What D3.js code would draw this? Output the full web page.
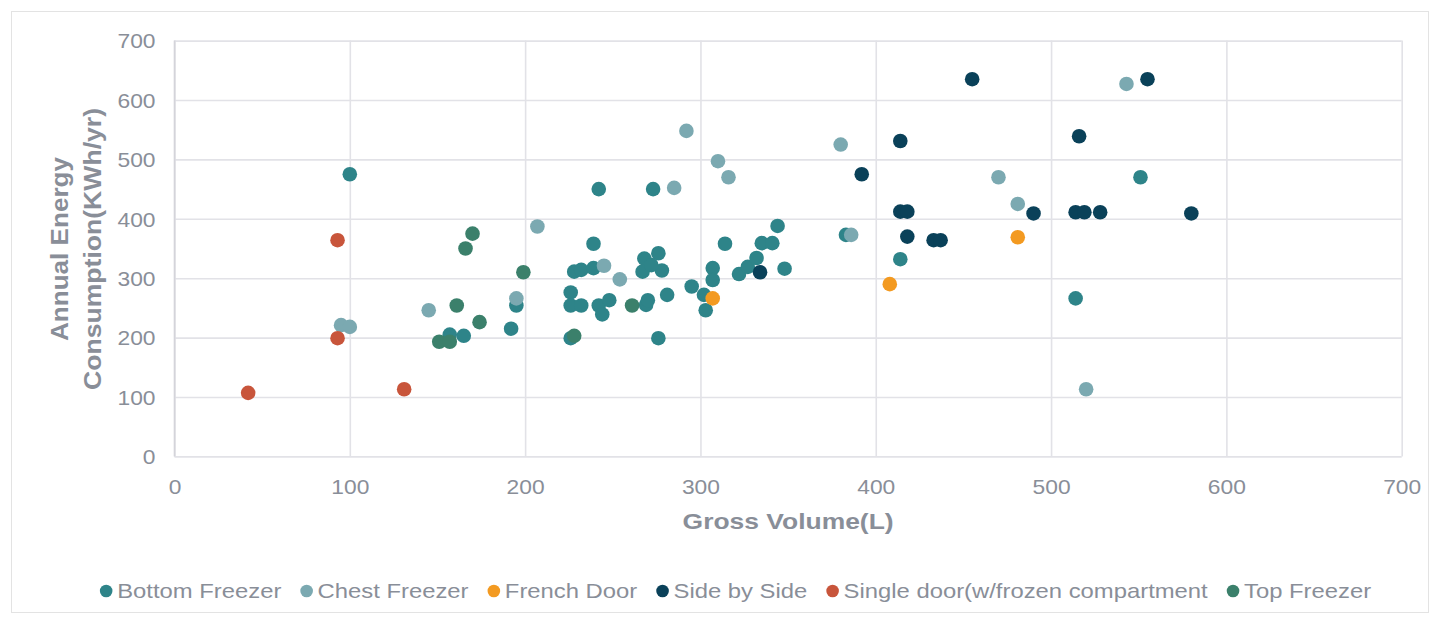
<!DOCTYPE html>
<html>
<head>
<meta charset="utf-8">
<script src="https://cdn.jsdelivr.net/npm/d3@7"></script>
<style>
  html, body { margin: 0; padding: 0; background: #ffffff; }
  svg { display: block; }
  text { font-family: "Liberation Sans", Arial, sans-serif; }
</style>
</head>
<body>
<svg id="chart" width="1440" height="624"></svg>
<script>
// Gross volume (L) vs annual energy consumption (kWh/yr), by refrigerator type
const bottomFreezer = [
  [100,475],[242,450],[273,450],[239,358],[314,358],[228,311],[232,314],[239,317],
  [268,333],[276,342],[267,311],[278,313],[272,322],[307,317],[307,297],[226,276],
  [226,254],[232,254],[242,254],[248,263],[244,239],[269,255],[270,263],[281,272],
  [295,286],[302,272],[303,246],[226,199],[276,199],[195,254],[192,215],[157,205],
  [165,203],[322,307],[327,319],[332,334],[335,359],[341,359],[344,388],[348,316],
  [383,373],[414,332],[514,266],[551,470]
];
const chestFreezer = [
  [95,221],[100,218],[145,246],[195,266],[207,387],[245,321],[254,298],[292,548],
  [285,452],[310,497],[316,470],[380,525],[386,373],[470,470],[481,425],[543,627],
  [520,113]
];
const frenchDoor = [[307,266],[408,290],[481,369]];
const sideBySide = [
  [334,310],[392,475],[414,531],[414,412],[418,412],[418,370],[433,364],[437,364],
  [455,635],[490,409],[514,411],[519,411],[528,411],[516,539],[555,635],[580,409]
];
const singleDoor = [[42,107],[93,364],[93,199],[131,113]];
const topFreezer = [
  [151,193],[157,193],[161,254],[166,350],[170,375],[174,226],[199,310],[228,203],
  [261,254]
];

const seriesNames = ["Bottom Freezer","Chest Freezer","French Door","Side by Side",
  "Single door(w/frozen compartment","Top Freezer"];
const seriesData = [bottomFreezer, chestFreezer, frenchDoor, sideBySide, singleDoor, topFreezer];
const seriesColors = ["#2e8489","#7ba9b1","#f39a21","#0a4159","#c8553b","#3b806b"];

const xTicks = [0,100,200,300,400,500,600,700];
const yTicks = [0,100,200,300,400,500,600,700];
const xTitle = "Gross Volume(L)";
const yTitleLines = ["Annual Energy","Consumption(KWh/yr)"];

const W = 1440, H = 624;
const plot = {left: 174.5, right: 1401.7, top: 40.6, bottom: 456.4};
const textColor = "#898e98";
const gridColor = "#e2e2e7";
const stretch = 1.14;   // horizontal text is set a little wide

const svg = d3.select("#chart");

// outer frame
svg.append("rect")
  .attr("x", 11.5).attr("y", 11.5)
  .attr("width", W - 23).attr("height", H - 23)
  .attr("fill", "#fff").attr("stroke", "#e3e3e3").attr("stroke-width", 1);

const x = d3.scaleLinear().domain([0,700]).range([plot.left, plot.right]);
const y = d3.scaleLinear().domain([0,700]).range([plot.bottom, plot.top]);

// vertical gridlines + x tick labels
const xAxis = svg.append("g")
  .attr("transform", `translate(0,${plot.bottom})`)
  .call(d3.axisBottom(x).tickValues(xTicks).tickSize(-(plot.bottom - plot.top)).tickPadding(0));
xAxis.select(".domain").remove();
xAxis.selectAll(".tick line").attr("stroke", gridColor).attr("stroke-width", 1.6);
xAxis.selectAll(".tick text")
  .attr("fill", textColor).attr("font-size", 20)
  .attr("y", 38).attr("dy", 0)
  .attr("transform", `scale(${stretch},1)`);

// horizontal gridlines + y tick labels
const yAxis = svg.append("g")
  .attr("transform", `translate(${plot.left},0)`)
  .call(d3.axisLeft(y).tickValues(yTicks).tickSize(-(plot.right - plot.left)).tickPadding(0));
yAxis.select(".domain").remove();
yAxis.selectAll(".tick line").attr("stroke", gridColor).attr("stroke-width", 1.6);
yAxis.selectAll(".tick text")
  .attr("fill", textColor).attr("font-size", 20)
  .attr("x", -19 / stretch).attr("dy", "0.36em")
  .attr("transform", `scale(${stretch},1)`);

// left axis line
svg.append("line")
  .attr("x1", plot.left).attr("x2", plot.left)
  .attr("y1", plot.top).attr("y2", plot.bottom)
  .attr("stroke", "#d4d4da").attr("stroke-width", 1.6);

// axis titles
svg.append("text")
  .attr("x", (plot.left + plot.right) / 2).attr("y", 529)
  .attr("text-anchor", "middle")
  .attr("font-size", 22).attr("font-weight", "bold")
  .attr("fill", textColor)
  .attr("textLength", 211).attr("lengthAdjust", "spacingAndGlyphs")
  .text(xTitle);

const yTitleLen = [184, 282];
const yTitleBase = [68, 101];
yTitleLines.forEach((line, i) => {
  svg.append("text")
    .attr("transform", `translate(${yTitleBase[i]},249) rotate(-90)`)
    .attr("text-anchor", "middle")
    .attr("font-size", 23).attr("font-weight", "bold")
    .attr("fill", textColor)
    .attr("textLength", yTitleLen[i]).attr("lengthAdjust", "spacingAndGlyphs")
    .text(line);
});

// points
const marks = svg.append("g");
seriesData.forEach((data, si) => {
  marks.append("g")
    .selectAll("circle")
    .data(data)
    .join("circle")
    .attr("cx", d => x(d[0]))
    .attr("cy", d => y(d[1]))
    .attr("r", 7.3)
    .attr("fill", seriesColors[si]);
});

// legend
const legendFont = 20.9;
const legend = svg.append("g");
const items = legend.selectAll("g")
  .data(seriesNames)
  .join("g");
items.append("circle")
  .attr("r", 6.3)
  .attr("fill", (d, i) => seriesColors[i]);
items.append("text")
  .attr("x", 11 / stretch)
  .attr("dy", "0.35em")
  .attr("font-size", legendFont)
  .attr("fill", textColor)
  .attr("transform", `scale(${stretch},1)`)
  .text(d => d);

const textLens = [];
items.each(function() {
  textLens.push(d3.select(this).select("text").node().getComputedTextLength() * stretch);
});
const step = 25.3; // text end to next marker centre
const spans = textLens.map(L => 11 + L);
const total = 6.3 + d3.sum(spans) + step * (spans.length - 1);
let cursor = 735.5 - total / 2 + 6.3;
items.attr("transform", (d, i) => {
  const tx = cursor;
  cursor += spans[i] + step;
  return `translate(${tx},591)`;
});
</script>
</body>
</html>
